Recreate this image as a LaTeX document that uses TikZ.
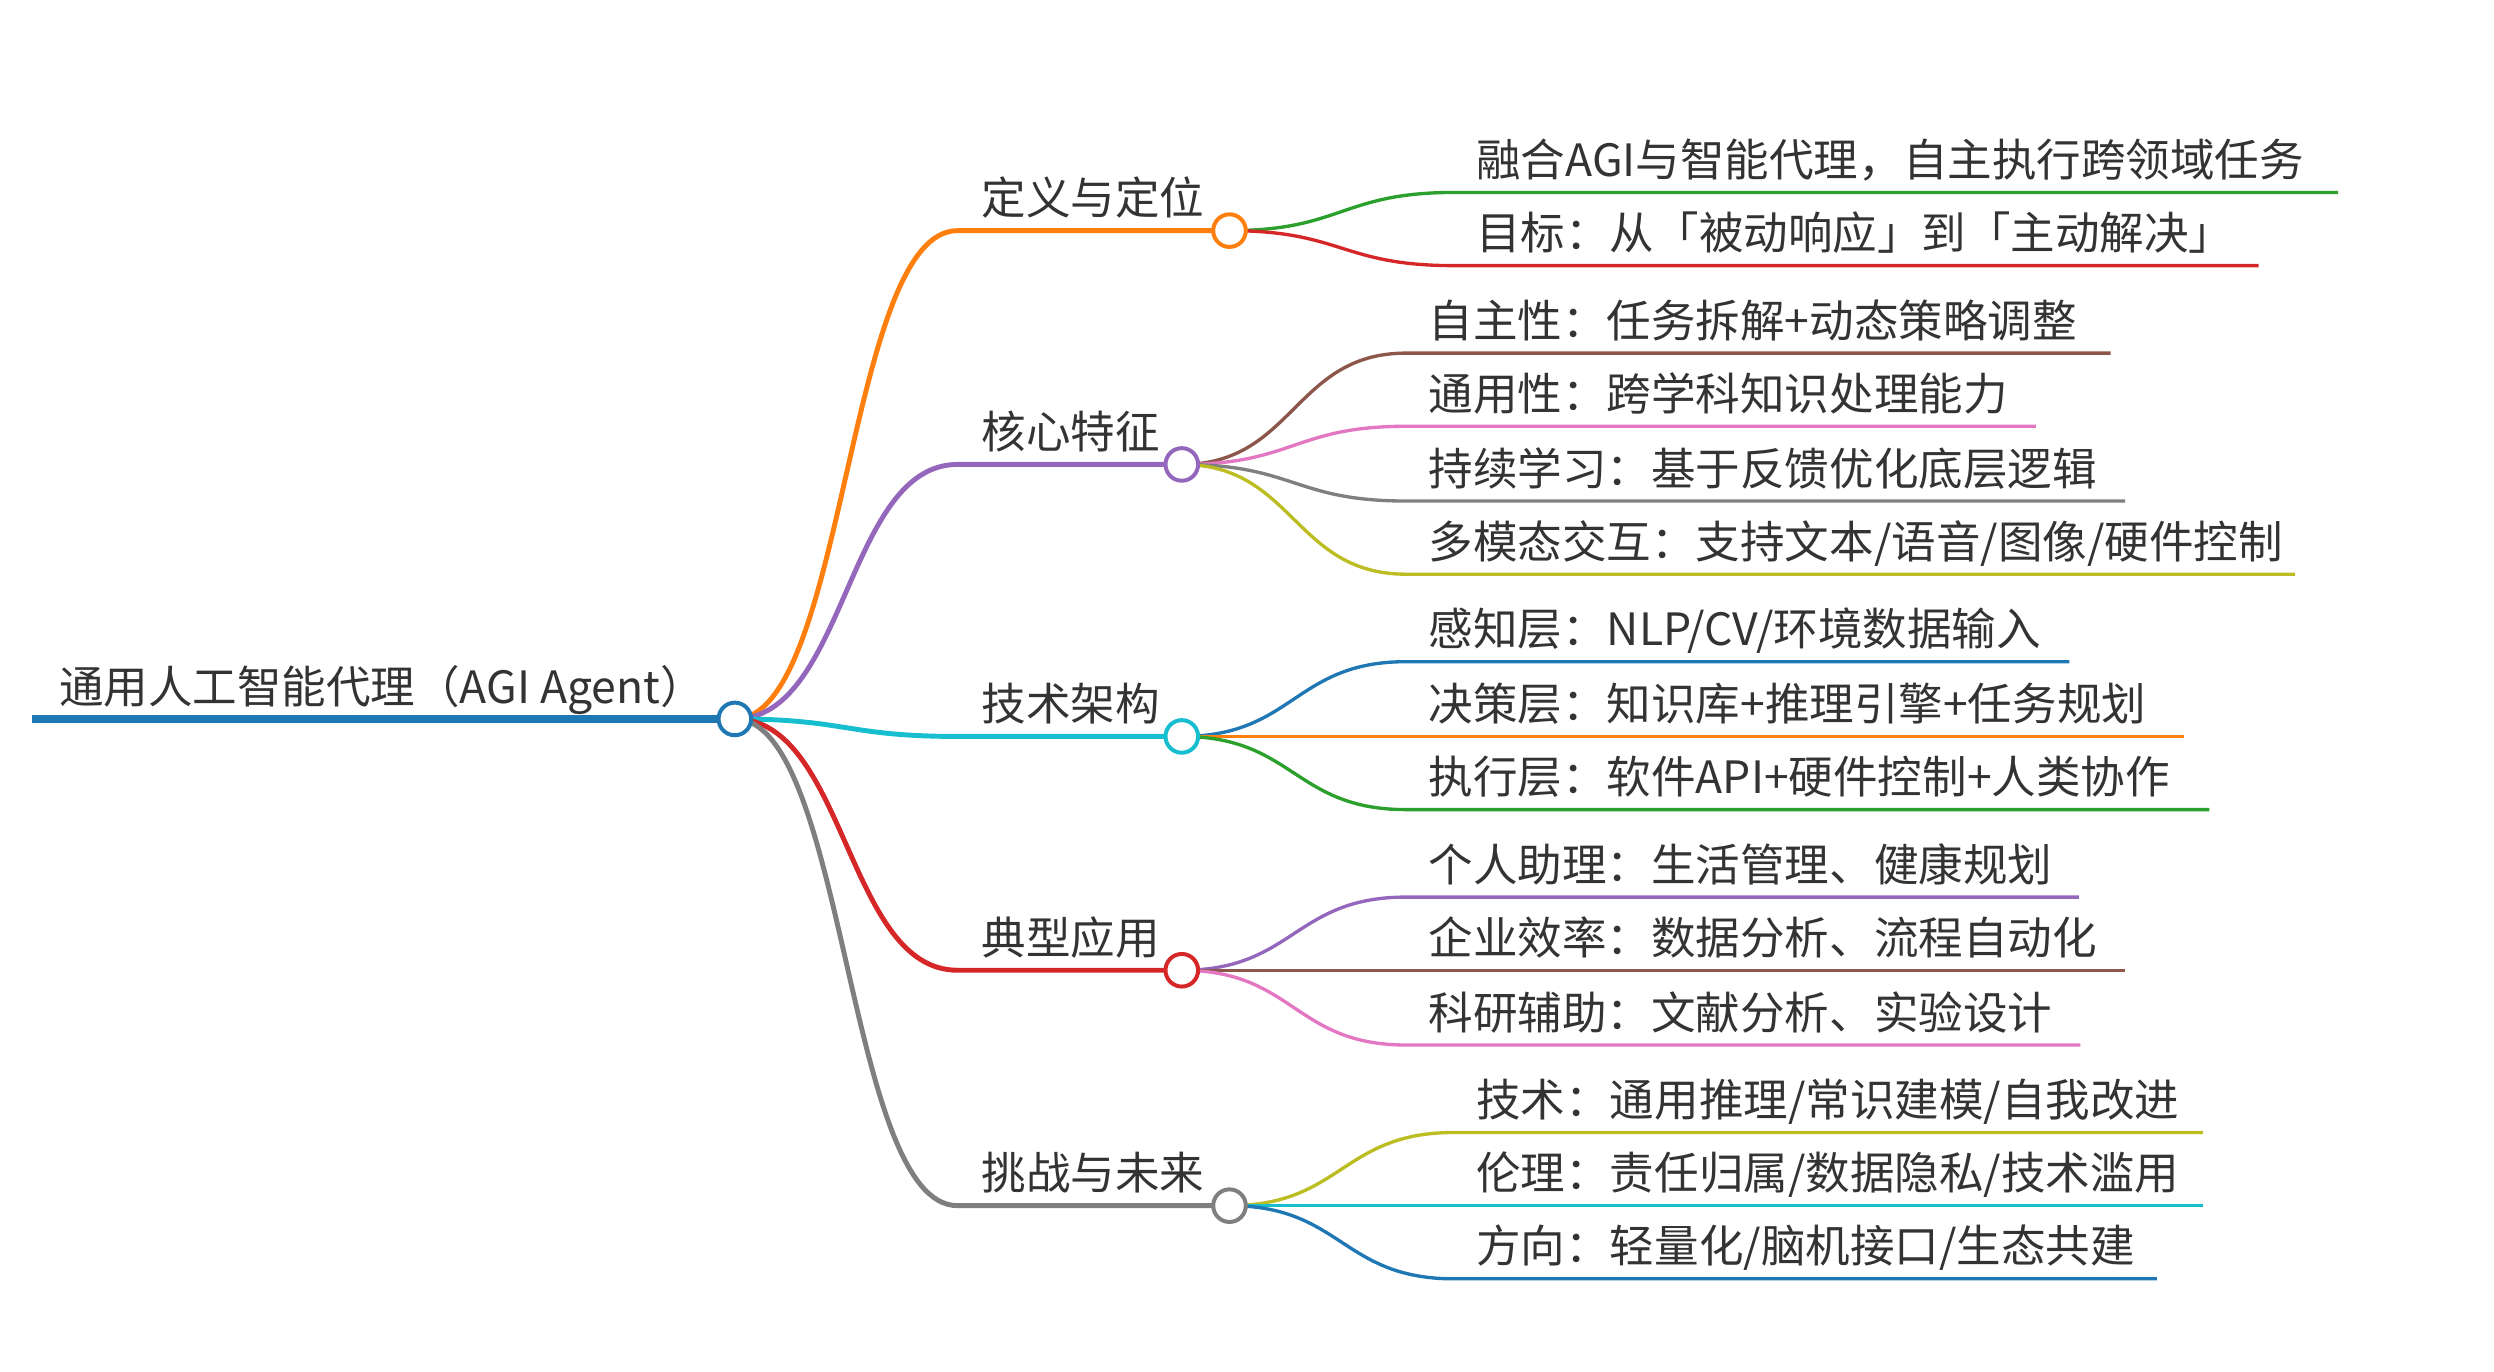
\documentclass[tikz,border=0pt]{standalone}
\usepackage{fontspec}
\setmainfont{Noto Sans CJK SC}
\usetikzlibrary{calc,backgrounds}
\definecolor{c0}{HTML}{1F77B4}
\definecolor{c1}{HTML}{FF7F0E}
\definecolor{c2}{HTML}{2CA02C}
\definecolor{c3}{HTML}{D62728}
\definecolor{c4}{HTML}{9467BD}
\definecolor{c5}{HTML}{8C564B}
\definecolor{c6}{HTML}{E377C2}
\definecolor{c7}{HTML}{7F7F7F}
\definecolor{c8}{HTML}{BCBD22}
\definecolor{c9}{HTML}{17BECF}
\definecolor{txt}{HTML}{333333}
\tikzset{
  lbl/.style={anchor=base west, inner sep=0pt, font=\fontsize{28}{30}\selectfont, text=txt},
  dot/.style={circle, fill=white, line width=2.5pt, minimum size=20.5pt, inner sep=0pt},
  lroot/.style={line width=4.6pt, draw=c0},
  lone/.style={line width=3.1pt},
  ltwo/.style={line width=2.1pt},
}
\newcommand\mmlink[4]{%
  \coordinate (mid) at ($(#2)!.5!(#3)$);
  \draw[#1] (#2) .. controls (mid |- #2) and (mid |- #3) .. (#3) -- (#4);
}
\begin{document}
\begin{tikzpicture}[x=1pt,y=-1pt]
\useasboundingbox (0,0) rectangle (1568,862);
% root
\coordinate (r0) at (20,452);
\node[dot, draw=c0] (rc) at (462,452) {};
\node[lbl] (rt) at (37,442) {通用人工智能代理（AGI Agent）};
% level 1 circles
\node[dot, draw=c1] (n1) at (773,145) {};
\node[dot, draw=c4] (n2) at (743,292) {};
\node[dot, draw=c9] (n3) at (743,463) {};
\node[dot, draw=c3] (n4) at (743,610) {};
\node[dot, draw=c7] (n5) at (773,758) {};
\coordinate (s1) at (602,145);
\coordinate (s2) at (602,292);
\coordinate (s3) at (602,463);
\coordinate (s4) at (602,610);
\coordinate (s5) at (602,758);
\node[lbl] (t1) at (617,135) {定义与定位};
\node[lbl] (t2) at (617,282) {核心特征};
\node[lbl] (t3) at (617,453) {技术架构};
\node[lbl] (t4) at (617,600) {典型应用};
\node[lbl] (t5) at (617,748) {挑战与未来};
% level 2 coordinates
\coordinate (s1a) at (914,121); \coordinate (e1a) at (1470,121);
\coordinate (s1b) at (914,167); \coordinate (e1b) at (1420,167);
\coordinate (s2a) at (884,222); \coordinate (e2a) at (1327,222);
\coordinate (s2b) at (884,268); \coordinate (e2b) at (1280,268);
\coordinate (s2c) at (884,315); \coordinate (e2c) at (1336,315);
\coordinate (s2d) at (884,361); \coordinate (e2d) at (1443,361);
\coordinate (s3a) at (884,416); \coordinate (e3a) at (1301,416);
\coordinate (s3b) at (884,463); \coordinate (e3b) at (1373,463);
\coordinate (s3c) at (884,509); \coordinate (e3c) at (1389,509);
\coordinate (s4a) at (884,564); \coordinate (e4a) at (1307,564);
\coordinate (s4b) at (884,610); \coordinate (e4b) at (1336,610);
\coordinate (s4c) at (884,657); \coordinate (e4c) at (1308,657);
\coordinate (s5a) at (914,712); \coordinate (e5a) at (1385,712);
\coordinate (s5b) at (914,758); \coordinate (e5b) at (1385,758);
\coordinate (s5c) at (914,804); \coordinate (e5c) at (1356,804);
% level 2 texts
\node[lbl] (t1a) at (928,111) {融合AGI与智能代理，自主执行跨领域任务};
\node[lbl] (t1b) at (928,157) {目标：从「被动响应」到「主动解决」};
\node[lbl] (t2a) at (898,212) {自主性：任务拆解+动态策略调整};
\node[lbl] (t2b) at (898,258) {通用性：跨学科知识处理能力};
\node[lbl] (t2c) at (898,305) {持续学习：基于反馈优化底层逻辑};
\node[lbl] (t2d) at (898,351) {多模态交互：支持文本/语音/图像/硬件控制};
\node[lbl] (t3a) at (898,406) {感知层：NLP/CV/环境数据输入};
\node[lbl] (t3b) at (898,453) {决策层：知识库+推理引擎+任务规划};
\node[lbl] (t3c) at (898,499) {执行层：软件API+硬件控制+人类协作};
\node[lbl] (t4a) at (898,554) {个人助理：生活管理、健康规划};
\node[lbl] (t4b) at (898,600) {企业效率：数据分析、流程自动化};
\node[lbl] (t4c) at (898,647) {科研辅助：文献分析、实验设计};
\node[lbl] (t5a) at (928,702) {技术：通用推理/常识建模/自我改进};
\node[lbl] (t5b) at (928,748) {伦理：责任归属/数据隐私/技术滥用};
\node[lbl] (t5c) at (928,794) {方向：轻量化/脑机接口/生态共建};
\begin{pgfonlayer}{background}
\draw[lroot] (r0) -- (rc.center);
\mmlink{lone, draw=c1}{rc.center}{s1}{n1.center}
\mmlink{lone, draw=c4}{rc.center}{s2}{n2.center}
\mmlink{lone, draw=c9}{rc.center}{s3}{n3.center}
\mmlink{lone, draw=c3}{rc.center}{s4}{n4.center}
\mmlink{lone, draw=c7}{rc.center}{s5}{n5.center}
\mmlink{ltwo, draw=c2}{n1.center}{s1a}{e1a}
\mmlink{ltwo, draw=c3}{n1.center}{s1b}{e1b}
\mmlink{ltwo, draw=c5}{n2.center}{s2a}{e2a}
\mmlink{ltwo, draw=c6}{n2.center}{s2b}{e2b}
\mmlink{ltwo, draw=c7}{n2.center}{s2c}{e2c}
\mmlink{ltwo, draw=c8}{n2.center}{s2d}{e2d}
\mmlink{ltwo, draw=c0}{n3.center}{s3a}{e3a}
\mmlink{ltwo, draw=c1}{n3.center}{s3b}{e3b}
\mmlink{ltwo, draw=c2}{n3.center}{s3c}{e3c}
\mmlink{ltwo, draw=c4}{n4.center}{s4a}{e4a}
\mmlink{ltwo, draw=c5}{n4.center}{s4b}{e4b}
\mmlink{ltwo, draw=c6}{n4.center}{s4c}{e4c}
\mmlink{ltwo, draw=c8}{n5.center}{s5a}{e5a}
\mmlink{ltwo, draw=c9}{n5.center}{s5b}{e5b}
\mmlink{ltwo, draw=c0}{n5.center}{s5c}{e5c}
\end{pgfonlayer}
\end{tikzpicture}
\end{document}
